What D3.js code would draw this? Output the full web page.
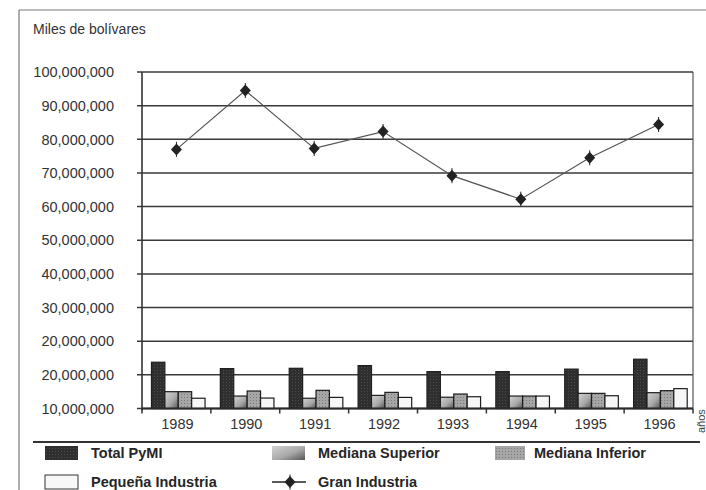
<!DOCTYPE html>
<html><head><meta charset="utf-8">
<script src="https://cdn.jsdelivr.net/npm/d3@7/dist/d3.min.js"></script>
<style>
html,body{margin:0;padding:0;background:#fff;}
svg{display:block;font-family:"Liberation Sans",Arial,sans-serif;}
</style></head>
<body>
<svg id="chart" width="706" height="490"></svg>
<script>
(function(){
// ---- data ----
const years = ["1989","1990","1991","1992","1993","1994","1995","1996"];
const seriesNames = ["Total PyMI","Mediana Superior","Mediana Inferior","Pequeña Industria"];
const totalPyMI = [13.75e6, 11.85e6, 11.95e6, 12.75e6, 10.95e6, 10.95e6, 11.7e6, 14.65e6];
const medianaSuperior = [5.0e6, 3.7e6, 3.05e6, 3.9e6, 3.35e6, 3.7e6, 4.5e6, 4.7e6];
const medianaInferior = [5.0e6, 5.2e6, 5.4e6, 4.8e6, 4.3e6, 3.7e6, 4.5e6, 5.3e6];
const pequenaIndustria = [3.05e6, 3.1e6, 3.3e6, 3.3e6, 3.5e6, 3.7e6, 3.8e6, 5.9e6];
const granIndustria = [77.0e6, 94.5e6, 77.3e6, 82.3e6, 69.2e6, 62.2e6, 74.5e6, 84.4e6];
const yTickValues = [0,10e6,20e6,30e6,40e6,50e6,60e6,70e6,80e6,90e6,100e6];
const yTickLabels = ["10,000,000","20,000,000","20,000,000","30,000,000","40,000,000","50,000,000",
  "60,000,000","70,000,000","80,000,000","90,000,000","100,000,000"];
const titleText = "Miles de bolívares";
const lineName = "Gran Industria";
const xAxisTitle = "años";

const barSeries = [totalPyMI, medianaSuperior, medianaInferior, pequenaIndustria];

const svg = d3.select("#chart");
const defs = svg.append("defs");
const gS = defs.append("linearGradient").attr("id","gSup").attr("x1","0").attr("y1","0").attr("x2","1").attr("y2","1");
gS.append("stop").attr("offset","0").attr("stop-color","#d2d2d2");
gS.append("stop").attr("offset","0.55").attr("stop-color","#a9a9a9");
gS.append("stop").attr("offset","1").attr("stop-color","#555");
const pI = defs.append("pattern").attr("id","pInf").attr("width",3).attr("height",3).attr("patternUnits","userSpaceOnUse");
pI.append("rect").attr("width",3).attr("height",3).attr("fill","#a6a6a6");
pI.append("rect").attr("x",1).attr("y",1).attr("width",1).attr("height",1).attr("fill","#7a7a7a");
const pT = defs.append("pattern").attr("id","pTot").attr("width",3).attr("height",3).attr("patternUnits","userSpaceOnUse");
pT.append("rect").attr("width",3).attr("height",3).attr("fill","#2f2f2f");
pT.append("rect").attr("x",1).attr("y",1).attr("width",1).attr("height",1).attr("fill","#4a4a4a");
const fills = ["url(#pTot)","url(#gSup)","url(#pInf)","#f7f7f7"];

// outer frame
svg.append("line").attr("x1",19).attr("y1",10).attr("x2",706).attr("y2",10).attr("stroke","#777").attr("stroke-width",1.2);
svg.append("line").attr("x1",19).attr("y1",10).attr("x2",19).attr("y2",490).attr("stroke","#777").attr("stroke-width",1.2);

svg.append("text").attr("x",33).attr("y",34).attr("font-size",14).attr("fill","#333").text(titleText);

const pL = 142, pR = 693, pT0 = 72, pB = 408.5;
const x0 = d3.scaleBand().domain(years).range([pL, pR]).padding(0);
const x1 = d3.scaleBand().domain(seriesNames).range([0, x0.bandwidth()]).paddingInner(0).paddingOuter(0.57).align(0.62);
const y = d3.scaleLinear().domain([0, 100e6]).range([pB, pT0]);

svg.append("g").selectAll("line").data(yTickValues).join("line")
  .attr("x1", pL - 5).attr("x2", pR).attr("y1", d => y(d)).attr("y2", d => y(d))
  .attr("stroke","#3a3a3a").attr("stroke-width",1.5);
svg.append("line").attr("x1",pL).attr("x2",pL).attr("y1",pT0).attr("y2",pB+2).attr("stroke","#333").attr("stroke-width",1.6);
svg.append("line").attr("x1",pR).attr("x2",pR).attr("y1",pT0).attr("y2",pB).attr("stroke","#555").attr("stroke-width",1.2);

svg.append("g").selectAll("text").data(yTickValues).join("text")
  .attr("x",114).attr("y", d => y(d)).attr("dy","0.36em").attr("text-anchor","end")
  .attr("font-size",14.5).attr("fill","#333")
  .text((d,i) => yTickLabels[i]);

const bounds = years.map(d => x0(d)).concat([pR]);
svg.append("g").selectAll("line").data(bounds).join("line")
  .attr("x1", d => d).attr("x2", d => d).attr("y1", pB).attr("y2", pB + 5)
  .attr("stroke","#333").attr("stroke-width",1.5);
svg.append("g").selectAll("text").data(years).join("text")
  .attr("x", d => x0(d) + x0.bandwidth()/2 + 1).attr("y", 429).attr("text-anchor","middle")
  .attr("font-size",14.5).attr("fill","#333").text(d => d);

const bars = [];
years.forEach((yr, i) => seriesNames.forEach((s, j) => bars.push({yr, s, j, v: barSeries[j][i]})));
svg.append("g").selectAll("rect").data(bars).join("rect")
  .attr("x", d => x0(d.yr) + x1(d.s)).attr("width", x1.bandwidth())
  .attr("y", d => y(d.v)).attr("height", d => y(0) - y(d.v))
  .attr("fill", d => fills[d.j]).attr("stroke","#1e1e1e").attr("stroke-width",1.2);

svg.append("line").attr("x1",pL).attr("x2",pR).attr("y1",pB).attr("y2",pB).attr("stroke","#2a2a2a").attr("stroke-width",1.8);

const cx = d => x0(d) + x0.bandwidth()/2;
const line = d3.line().x((d,i) => cx(years[i])).y(d => y(d));
svg.append("path").datum(granIndustria).attr("d", line).attr("fill","none").attr("stroke","#555").attr("stroke-width",1.2);
function marker(g, px, py) {
  g.append("path").attr("d", `M${px},${py-6}L${px+5.5},${py}L${px},${py+6}L${px-5.5},${py}Z`).attr("fill","#222");
  g.append("line").attr("x1",px).attr("x2",px).attr("y1",py-7.5).attr("y2",py+7.5).attr("stroke","#222").attr("stroke-width",1);
}
const mg = svg.append("g");
granIndustria.forEach((v,i) => marker(mg, cx(years[i]), y(v)));

svg.append("text").attr("transform","translate(705,433) rotate(-90)").attr("font-size",11).attr("fill","#444").text(xAxisTitle);

svg.append("line").attr("x1",33).attr("x2",700).attr("y1",442).attr("y2",442).attr("stroke","#333").attr("stroke-width",2);

const legendItems = [
  {name: seriesNames[0], type:"bar", j:0, x:45, tx:91, y:453},
  {name: seriesNames[1], type:"bar", j:1, x:272, tx:318, y:453},
  {name: seriesNames[2], type:"bar", j:2, x:495, tx:534, y:453},
  {name: seriesNames[3], type:"bar", j:3, x:45, tx:91, y:482},
  {name: lineName, type:"line", x:272, tx:318, y:482}
];
const lg = svg.append("g");
legendItems.forEach(it => {
  if (it.type === "bar") {
    lg.append("rect").attr("x", it.x).attr("y", it.y - 7).attr("width", it.j===2 ? 30 : 33).attr("height", 14)
      .attr("fill", fills[it.j]).attr("stroke", it.j===3 ? "#333" : "none").attr("stroke-width",1);
  } else {
    lg.append("line").attr("x1", it.x).attr("x2", it.x + 34).attr("y1", it.y).attr("y2", it.y).attr("stroke","#222").attr("stroke-width",1.5);
    marker(lg, it.x + 18, it.y);
  }
  lg.append("text").attr("x", it.tx).attr("y", it.y).attr("dy","0.36em").attr("font-size",14.5)
    .attr("font-weight","bold").attr("fill","#262626").text(it.name);
});
})();
</script>
</body></html>
